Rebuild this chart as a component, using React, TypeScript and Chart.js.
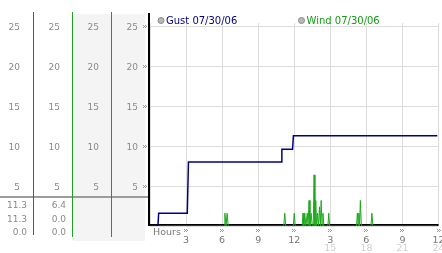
import React, { useEffect, useRef } from "react";
import { Chart, registerables } from "chart.js";

Chart.register(...registerables);

// ---- data ----
const gustHours = [0, 0.66, 0.72, 3.1, 3.2, 10.9, 10.97, 11.86, 11.93, 23.9];
const gustValues = [0, 0, 1.6, 1.6, 8.0, 8.0, 9.6, 9.6, 11.3, 11.3];

const windHours = [
  0, 6.17, 6.23, 6.32, 6.42, 6.5, 11.13, 11.21, 11.29, 11.92, 12.0, 12.08,
  12.66, 12.73, 12.8, 12.87, 12.97, 13.08, 13.15, 13.23, 13.31, 13.4, 13.5,
  13.58, 13.65, 13.72, 13.79, 13.86, 13.93, 14.01, 14.1, 14.17, 14.24, 14.31,
  14.39, 14.46, 14.8, 14.87, 14.94, 17.18, 17.25, 17.31, 17.37, 17.43, 17.5,
  17.58, 18.38, 18.46, 18.54, 23.9,
];
const windValues = [
  0, 0, 1.6, 0, 1.6, 0, 0, 1.6, 0, 0, 1.6, 0,
  0, 1.6, 0, 1.6, 0, 1.6, 0, 3.2, 0, 1.6, 0,
  0, 6.4, 0, 3.2, 0, 1.6, 0, 2.4, 0, 3.2, 0,
  1.6, 0, 0, 1.6, 0, 0, 1.6, 0, 1.6, 0, 3.2,
  0, 0, 1.6, 0, 0,
];

const yTicks = [0, 5, 10, 15, 20, 25];
const yTickLabels = ["", "5", "10", "15", "20", "25"];
const xTicks = [3, 6, 9, 12, 15, 18, 21, 24];
const xTickLabels = ["3", "6", "9", "12", "3", "6", "9", "12"];
const xTickLabels24 = ["", "", "", "", "15", "18", "21", "24"];
const gustStats = ["11.3", "11.3", "0.0"];
const windStats = ["6.4", "0.0", "0.0"];
const legendLabels = ["Gust 07/30/06", "Wind 07/30/06"];

const GUST = "#000080";
const WIND = "#1aa81a";

function mark(ctx: CanvasRenderingContext2D, cx: number, cy: number) {
  ctx.fillStyle = "#9a9a9a";
  const pts = [
    [-1, -1], [1, -1], [0, 0], [-1, 1], [1, 1], [2, 0],
  ];
  for (const [dx, dy] of pts) ctx.fillRect(Math.round(cx) + dx - 1, Math.round(cy) + dy, 1, 1);
}

const decor = {
  id: "decor",
  beforeDraw(chart: any) {
    const ctx = chart.ctx as CanvasRenderingContext2D;
    ctx.save();
    ctx.fillStyle = "#fff";
    ctx.fillRect(0, 0, chart.width, chart.height);
    // shaded columns
    ctx.fillStyle = "#f4f4f4";
    ctx.fillRect(73, 14, 72, 227);
    // horizontal separator
    ctx.fillStyle = "#9c9c9c";
    ctx.fillRect(0, 196, 149, 2);
    // coloured column lines
    ctx.fillStyle = "#2a55d8";
    ctx.fillRect(33, 12, 1, 223);
    ctx.fillStyle = "#22a022";
    ctx.fillRect(72, 12, 1, 225);
    ctx.fillStyle = "#d83838";
    ctx.fillRect(111, 12, 1, 225);
    ctx.restore();
  },
  beforeDatasetsDraw(chart: any) {
    const ctx = chart.ctx as CanvasRenderingContext2D;
    const { left, right } = chart.chartArea;
    const y0 = chart.scales.y.getPixelForValue(0);
    ctx.save();
    ctx.fillStyle = "#000";
    ctx.fillRect(left - 1, Math.round(y0) - 2, right - left + 1, 2);
    ctx.restore();
  },
  afterDraw(chart: any) {
    const ctx = chart.ctx as CanvasRenderingContext2D;
    const xs = chart.scales.x;
    const ys = chart.scales.y;
    const { left } = chart.chartArea;
    const y0 = ys.getPixelForValue(0);
    ctx.save();
    // y axis black line
    ctx.fillStyle = "#000";
    ctx.fillRect(left - 2, 13, 2, Math.round(y0) - 13);

    // y labels in four columns
    ctx.font = "9px 'DejaVu Sans'";
    ctx.textAlign = "right";
    ctx.fillStyle = "#8a8a8a";
    const colRight = [20, 60, 99, 138];
    yTicks.forEach((v, i) => {
      const lab = yTickLabels[i];
      if (!lab) return;
      const py = ys.getPixelForValue(v);
      colRight.forEach((cx) => ctx.fillText(lab, cx, py + 3.5));
      mark(ctx, 145, py);
      ctx.fillStyle = "#8a8a8a";
    });
    // stats
    const rowsY = [208, 222, 235];
    gustStats.forEach((s, i) => ctx.fillText(s, 27, rowsY[i]));
    windStats.forEach((s, i) => ctx.fillText(s, 66, rowsY[i]));

    // x labels
    ctx.textAlign = "center";
    ctx.font = "9.5px 'DejaVu Sans'";
    xTicks.forEach((h, i) => {
      const px = xs.getPixelForValue(h);
      mark(ctx, px, 230);
      ctx.fillStyle = "#777";
      ctx.fillText(xTickLabels[i], px, 243);
      if (xTickLabels24[i]) {
        ctx.fillStyle = "#cfcfcf";
        ctx.fillText(xTickLabels24[i], px, 251);
      }
    });
    ctx.textAlign = "left";
    ctx.fillStyle = "#777";
    ctx.font = "9.5px 'DejaVu Sans'";
    ctx.fillText("Hours", 153, 235);

    // legend
    const legX = [161, 301.5];
    const legColors = [GUST, "#159a15"];
    ctx.font = "10px 'DejaVu Sans'";
    legendLabels.forEach((l, i) => {
      ctx.beginPath();
      ctx.arc(legX[i], 20.5, 3, 0, Math.PI * 2);
      ctx.fillStyle = "#b8b8b8";
      ctx.fill();
      ctx.strokeStyle = "#8a8a8a";
      ctx.lineWidth = 1;
      ctx.stroke();
      ctx.fillStyle = legColors[i];
      ctx.fillText(l, legX[i] + 5, 24);
    });
    ctx.restore();
  },
};

export default function App() {
  const ref = useRef<HTMLCanvasElement | null>(null);
  useEffect(() => {
    if (!ref.current) return;
    const chart = new Chart(ref.current, {
      type: "line",
      data: {
        datasets: [
          {
            data: gustHours.map((h, i) => ({ x: h, y: gustValues[i] })),
            borderColor: GUST,
            borderWidth: 1.5,
            pointRadius: 0,
            tension: 0,
          },
          {
            data: windHours.map((h, i) => ({ x: h, y: windValues[i] })),
            borderColor: WIND,
            borderWidth: 1,
            pointRadius: 0,
            tension: 0,
          },
        ],
      },
      options: {
        animation: false,
        responsive: false,
        devicePixelRatio: 1,
        layout: { padding: { left: 150, right: 3.5, top: 23, bottom: 27 } },
        plugins: { legend: { display: false }, tooltip: { enabled: false } },
        scales: {
          x: {
            type: "linear",
            min: 0,
            max: 24,
            ticks: { display: false, stepSize: 3 },
            grid: { color: "#dcdcdc", drawTicks: false, lineWidth: 1 },
            border: { display: false },
            afterFit: (s: any) => {
              s.height = 0;
            },
          },
          y: {
            type: "linear",
            min: 0,
            max: 25.4,
            afterBuildTicks: (s: any) => {
              s.ticks = yTicks.map((v) => ({ value: v }));
            },
            ticks: { display: false },
            grid: { color: "#dcdcdc", drawTicks: false, lineWidth: 1 },
            border: { display: false },
            afterFit: (s: any) => {
              s.width = 0;
            },
          },
        },
      },
      plugins: [decor],
    });
    return () => chart.destroy();
  }, []);
  return (
    <div style={{ position: "fixed", left: 0, top: 0, width: 442, height: 253, background: "#fff" }}>
      <canvas ref={ref} width={442} height={253} style={{ display: "block", width: 442, height: 253 }} />
    </div>
  );
}
